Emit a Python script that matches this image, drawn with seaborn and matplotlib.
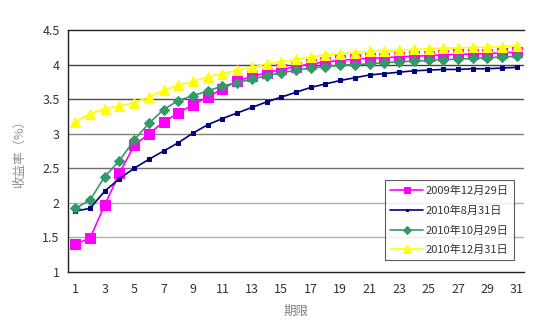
import numpy as np
import pandas as pd
import matplotlib
matplotlib.use("Agg")
import matplotlib.pyplot as plt
import seaborn as sns

# Yield curves: term (periods 1..31) vs. yield (%)
terms = list(range(1, 32))
series_names = ["2009年12月29日", "2010年8月31日", "2010年10月29日", "2010年12月31日"]

yield_20091229 = [1.40, 1.49, 1.97, 2.43, 2.83, 3.00, 3.17, 3.30, 3.42, 3.53,
                  3.65, 3.76, 3.83, 3.88, 3.93, 3.97, 4.01, 4.04, 4.06, 4.08,
                  4.09, 4.10, 4.11, 4.12, 4.13, 4.14, 4.15, 4.15, 4.16, 4.17, 4.18]
yield_20100831 = [1.88, 1.92, 2.17, 2.35, 2.50, 2.63, 2.75, 2.87, 3.01, 3.13,
                  3.22, 3.30, 3.38, 3.46, 3.53, 3.60, 3.67, 3.72, 3.77, 3.81,
                  3.85, 3.87, 3.89, 3.91, 3.92, 3.93, 3.93, 3.94, 3.94, 3.95, 3.96]
yield_20101029 = [1.92, 2.04, 2.38, 2.61, 2.91, 3.15, 3.35, 3.48, 3.55, 3.62,
                  3.69, 3.74, 3.79, 3.84, 3.88, 3.92, 3.95, 3.97, 3.99, 4.00,
                  4.01, 4.03, 4.04, 4.05, 4.06, 4.07, 4.08, 4.09, 4.10, 4.11, 4.12]
yield_20101231 = [3.17, 3.29, 3.36, 3.40, 3.45, 3.53, 3.63, 3.70, 3.76, 3.82,
                  3.87, 3.92, 3.96, 4.01, 4.04, 4.08, 4.11, 4.14, 4.16, 4.17,
                  4.19, 4.20, 4.21, 4.22, 4.23, 4.24, 4.24, 4.25, 4.25, 4.26, 4.27]

x_tick_labels = [str(t) for t in range(1, 32, 2)]
y_ticks = [1, 1.5, 2, 2.5, 3, 3.5, 4, 4.5]

all_series = [yield_20091229, yield_20100831, yield_20101029, yield_20101231]
df = pd.concat(
    [pd.DataFrame({"期限": terms, "收益率": vals, "日期": name})
     for name, vals in zip(series_names, all_series)],
    ignore_index=True,
)

sns.set_theme(style="white")
plt.rcParams["font.family"] = ["Noto Sans CJK SC", "DejaVu Sans"]

fig = plt.figure(figsize=(5.5, 3.23), dpi=100)
ax = fig.add_axes([0.1236, 0.158, 0.8294, 0.749])

palette = {series_names[0]: "#FF00FF", series_names[1]: "#000080",
           series_names[2]: "#339966", series_names[3]: "#FFFF00"}
markers = {series_names[0]: "s", series_names[1]: "s",
           series_names[2]: "D", series_names[3]: "^"}
sizes_m = {series_names[0]: 6.5, series_names[1]: 2.8,
           series_names[2]: 5.5, series_names[3]: 7.0}

# Gridlines first so the curves sit on top
for yv, col in zip([1.5, 2, 2.5, 3, 3.5, 4],
                   ["#b0b0b0", "#b0b0b0", "#707070", "#808080", "#505050", "#404040"]):
    ax.axhline(yv, color=col, lw=1.0, zorder=0)

for name in series_names:
    sub = df[df["日期"] == name]
    sns.lineplot(data=sub, x="期限", y="收益率", ax=ax, color=palette[name],
                 marker=markers[name], markersize=sizes_m[name],
                 markeredgecolor=palette[name], lw=1.2, label=name,
                 zorder=3)

ax.set_xlim(0.5, 31.5)
ax.set_ylim(1, 4.5)
ax.set_yticks(y_ticks)
ax.set_yticklabels([f"{v:g}" for v in y_ticks])
ax.set_xticks(range(1, 32, 2))
ax.set_xticklabels(x_tick_labels)
ax.set_xticks(np.arange(0.5, 32, 1), minor=True)
ax.tick_params(axis="x", which="major", length=0, pad=8, labelsize=9, colors="#333333")
ax.tick_params(axis="x", which="minor", direction="in", length=4, width=0.8, color="#333333")
ax.tick_params(axis="y", which="major", left=True, length=0, pad=6, labelsize=9, colors="#333333")

for side in ["left", "bottom", "top"]:
    ax.spines[side].set_visible(True)
    ax.spines[side].set_color("#222222")
    ax.spines[side].set_linewidth(1.0)
ax.spines["right"].set_visible(False)

ax.set_xlabel("期限", color="#808080", fontsize=9, labelpad=6)
ax.set_ylabel("收益率（%）", color="#909090", fontsize=9, labelpad=12)

leg = ax.legend(loc="lower right", bbox_to_anchor=(0.977, 0.048), fontsize=8,
                frameon=True, fancybox=False, edgecolor="#333333",
                handlelength=3.0, handletextpad=0.2, borderpad=0.45,
                labelspacing=0.85, borderaxespad=0, markerscale=0.75)
leg.get_frame().set_linewidth(0.8)
for t in leg.get_texts():
    t.set_color("#333333")

fig.savefig("out.png", dpi=100, facecolor="white")
